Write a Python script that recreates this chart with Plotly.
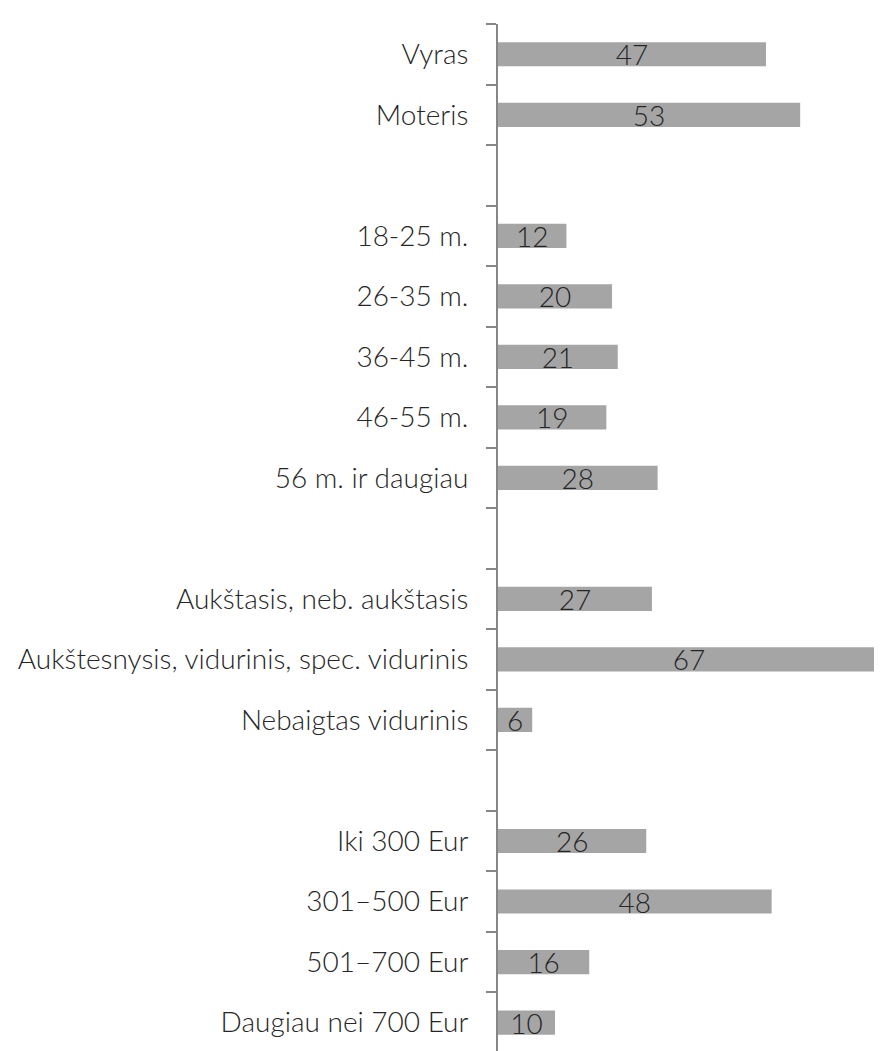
import plotly.graph_objects as go

# kategorijos (iš viršaus į apačią), tušti tarpai tarp grupių
categories = ["Vyras", "Moteris", " ",
              "18-25 m.", "26-35 m.", "36-45 m.", "46-55 m.", "56 m. ir daugiau", "  ",
              "Aukštasis, neb. aukštasis", "Aukštesnysis, vidurinis, spec. vidurinis",
              "Nebaigtas vidurinis", "   ",
              "Iki 300 Eur", "301–500 Eur", "501–700 Eur", "Daugiau nei 700 Eur"]
values = [47, 53, None,
          12, 20, 21, 19, 28, None,
          27, 67, 6, None,
          26, 48, 16, 10]

labels = ["" if v is None else str(v) for v in values]

font_family = "Lato, 'Open Sans', sans-serif"

fig = go.Figure(go.Bar(
    x=values, y=categories, orientation="h",
    marker_color="#A5A5A5", marker_line_width=0,
    text=labels, textposition="inside", insidetextanchor="middle",
    textangle=0, constraintext="none",
    textfont=dict(family=font_family, size=28, color="#262626", weight=300),
))

# puslapio body turi 8px paraštę, todėl figūra pastumta
fig.update_layout(
    width=874, height=1043,
    margin=dict(l=490, r=0, t=16, b=0, autoexpand=False),
    plot_bgcolor="white", paper_bgcolor="white",
    bargap=0.6, showlegend=False,
    font=dict(family=font_family, size=28, color="#262626", weight=300),
)
fig.update_xaxes(range=[0, 67.35], visible=False, automargin=False)
fig.update_yaxes(
    type="category", range=[16.47, -0.5], automargin=False,
    showline=True, linecolor="#868686", linewidth=2,
    ticks="outside", tickson="boundaries", ticklen=10, tickcolor="#868686", tickwidth=2,
    ticklabelstandoff=22, showgrid=False, zeroline=False,
    tickfont=dict(family=font_family, size=28, color="#262626", weight=300),
)

fig.write_html("out.html")
